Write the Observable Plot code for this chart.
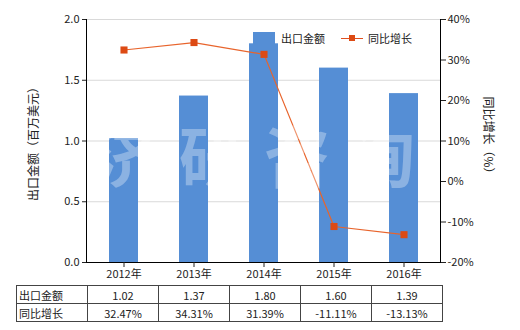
<!DOCTYPE html>
<html><head><meta charset="utf-8">
<script src="https://cdn.jsdelivr.net/npm/d3@7"></script>
<script src="https://cdn.jsdelivr.net/npm/@observablehq/plot@0.6"></script>
<style>
body{margin:0;background:#fff;font-family:"Noto Sans CJK SC","Noto Sans",sans-serif;}
#wrap{position:relative;width:520px;height:330px;overflow:hidden;}
#wrap svg{position:absolute;left:0;top:0;}
.wm{position:absolute;left:94px;top:108px;font-family:"Noto Sans CJK SC",sans-serif;font-size:66px;line-height:90px;font-weight:bold;color:rgba(255,255,255,0.32);letter-spacing:19px;white-space:nowrap;pointer-events:none;}
.legend{position:absolute;top:30px;left:253px;font-size:11px;color:#222;display:flex;align-items:center;}
.sw{display:inline-block;width:22px;height:12px;background:#558ed5;margin-right:6px;}
.ln{display:inline-block;position:relative;width:22px;height:12px;margin-left:16px;margin-right:5px;}
.ln:before{content:"";position:absolute;left:0;right:0;top:5.5px;height:1.5px;background:#e05020;}
.ln:after{content:"";position:absolute;left:8px;top:3px;width:6px;height:6px;background:#dd4a14;}
.rt{position:absolute;left:489px;top:138px;font-size:12px;color:#222;transform:translate(-50%,-50%) rotate(90deg);white-space:nowrap;}
table{position:absolute;left:16px;top:285px;border-collapse:collapse;font-size:11px;color:#222;}
td{border:1px solid #444;height:17px;padding:0;text-align:center;width:70px;}
td.h{text-align:left;padding-left:2px;width:68px;}
</style></head><body><div id="wrap"></div>
<script>
const years = ["2012年","2013年","2014年","2015年","2016年"];
const exportValues = [1.02,1.37,1.80,1.60,1.39];
const growth = [32.47,34.31,31.39,-11.11,-13.13];
const exportLabels = ["1.02","1.37","1.80","1.60","1.39"];
const growthLabels = ["32.47%","34.31%","31.39%","-11.11%","-13.13%"];
const leftTicks = [0,0.5,1,1.5,2];
const rightTicks = [-20,-10,0,10,20,30,40];
const seriesNames = ["出口金额","同比增长"];
const leftTitle = "出口金额（百万美元）";
const rightTitle = "同比增长（%）";

const toLeft = g => (g + 20) / 60 * 2;
const data = years.map((y,i)=>({year:y, value:exportValues[i], g:growth[i]}));

const chart = Plot.plot({
  width:520, height:282,
  marginLeft:86, marginRight:80, marginTop:19, marginBottom:20,
  style:{fontFamily:'"Noto Sans CJK SC","Noto Sans",sans-serif', fontSize:"11px", color:"#222", background:"transparent", overflow:"visible"},
  x:{type:"band", domain:years, paddingInner:0.59, paddingOuter:0.295},
  y:{domain:[0,2]},
  marks:[
    Plot.gridY(leftTicks,{stroke:"#d9d9d9", strokeOpacity:1}),
    Plot.barY(data,{x:"year", y:"value", fill:"#558ed5"}),
    Plot.line(data,{x:"year", y:d=>toLeft(d.g), stroke:"#e8642c", strokeWidth:1.2}),
    Plot.dot(data,{x:"year", y:d=>toLeft(d.g), symbol:"square", r:4, fill:"#dd4a14", stroke:null}),
    Plot.frame({anchor:"left", stroke:"#000"}),
    Plot.frame({anchor:"right", stroke:"#000"}),
    Plot.frame({anchor:"bottom", stroke:"#000"}),
    Plot.axisY(leftTicks,{anchor:"left", tickFormat:d=>d.toFixed(1), tickSize:4, tickPadding:3, label:null}),
    Plot.axisY(rightTicks.map(toLeft),{anchor:"right", tickFormat:d=>Math.round(d*30-20)+"%", tickSize:5, tickPadding:2, label:null}),
    Plot.axisX({tickSize:5, tickPadding:3, label:null})
  ]
});
const wrap = document.getElementById("wrap");
wrap.appendChild(chart);

const wm = document.createElement("div");
wm.className="wm"; wm.textContent="济研咨询";
wrap.appendChild(wm);

const lt = document.createElement("div");
lt.className="rt"; lt.style.left="32px"; lt.style.top="141px";
lt.style.transform="translate(-50%,-50%) rotate(-90deg)";
lt.textContent=leftTitle;
wrap.appendChild(lt);

const lg = document.createElement("div");
lg.className="legend";
lg.innerHTML = `<span class="sw"></span><span>${seriesNames[0]}</span><span class="ln"></span><span>${seriesNames[1]}</span>`;
wrap.appendChild(lg);

const rt = document.createElement("div");
rt.className="rt"; rt.textContent=rightTitle;
wrap.appendChild(rt);

const tbl = document.createElement("table");
const rows = [[seriesNames[0], ...exportLabels],[seriesNames[1], ...growthLabels]];
tbl.innerHTML = rows.map(r=>"<tr>"+r.map((c,i)=>`<td class="${i===0?'h':''}">${c}</td>`).join("")+"</tr>").join("");
wrap.appendChild(tbl);
</script></body></html>
